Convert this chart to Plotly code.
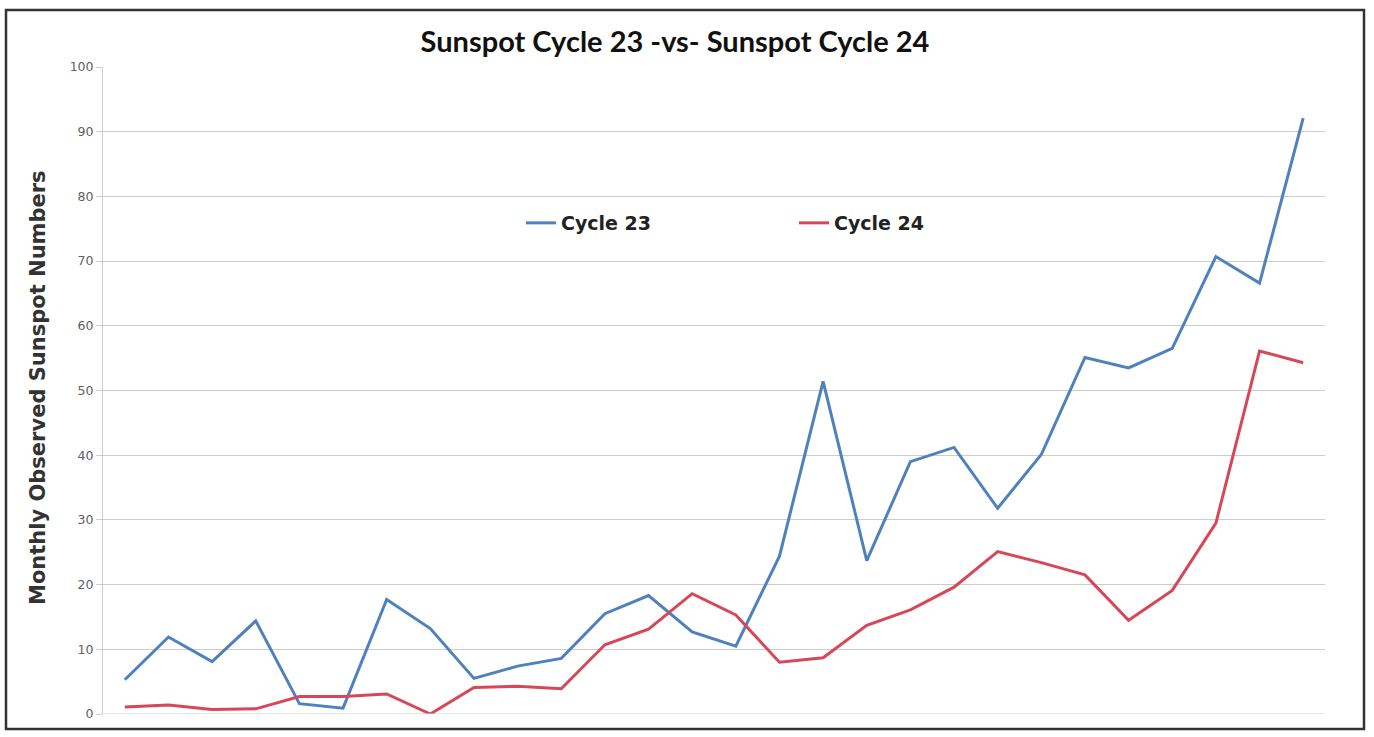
import plotly.graph_objects as go

months = list(range(1, 29))
cycle23 = [5.3, 11.9, 8.1, 14.4, 1.6, 0.9, 17.7, 13.2, 5.5, 7.4, 8.6, 15.5, 18.3, 12.7,
           10.5, 24.4, 51.4, 23.7, 39.0, 41.2, 31.8, 40.1, 55.1, 53.5, 56.5, 70.7, 66.6, 92.1]
cycle24 = [1.1, 1.4, 0.7, 0.8, 2.7, 2.7, 3.1, 0.0, 4.1, 4.3, 3.9, 10.7, 13.1, 18.6,
           15.3, 8.0, 8.7, 13.7, 16.1, 19.6, 25.1, 23.4, 21.5, 14.5, 19.1, 29.5, 56.1, 54.3]
y_ticks = list(range(0, 101, 10))

W, H = 1374, 737
L, R, T, B = 103, 49, 67, 23
pw, ph = W - L - R, H - T - B

fig = go.Figure()
fig.add_trace(go.Scatter(x=months, y=cycle23, mode="lines", name="Cycle 23",
                         line=dict(color="#4f81bd", width=3)))
fig.add_trace(go.Scatter(x=months, y=cycle24, mode="lines", name="Cycle 24",
                         line=dict(color="#d64858", width=3)))

def px_x(p):
    return (p - L) / pw

def px_y(p):
    return (H - B - p) / ph

fig.update_layout(
    width=W, height=H,
    margin=dict(l=L, r=R, t=T, b=B),
    paper_bgcolor="white", plot_bgcolor="white",
    title=dict(text="<b>Sunspot Cycle 23 -vs- Sunspot Cycle 24</b>",
               x=675 / W, xanchor="center", y=1 - 42 / H, yanchor="middle",
               yref="container", xref="container",
               font=dict(family="Lato, Open Sans, sans-serif", size=29, color="#111111")),
    showlegend=True,
    legend=dict(orientation="h", x=px_x(521), y=px_y(223), xanchor="left", yanchor="middle",
                entrywidth=228, entrywidthmode="pixels", bgcolor="rgba(0,0,0,0)",
                font=dict(family="DejaVu Sans, sans-serif", size=19, color="#222222", weight="bold"),
                itemwidth=30),
    xaxis=dict(range=[0.5, 28.5], showticklabels=False, showgrid=False, zeroline=False,
               showline=False, ticks=""),
    yaxis=dict(range=[0, 100], tickvals=y_ticks, showgrid=True, gridcolor="#cccccc",
               gridwidth=1, zeroline=False, showline=True, linecolor="#cccccc", linewidth=1,
               ticks="outside", ticklen=6, tickcolor="#cccccc",
               tickfont=dict(family="DejaVu Sans, sans-serif", size=12.5, color="#606060")),
    annotations=[dict(text="<b>Monthly Observed Sunspot Numbers</b>", textangle=-90,
                      xref="paper", yref="paper", x=px_x(38), y=px_y(388),
                      xanchor="center", yanchor="middle", showarrow=False,
                      font=dict(family="DejaVu Sans, sans-serif", size=21, color="#333333"))],
    shapes=[dict(type="rect", xref="paper", yref="paper",
                 x0=px_x(6), x1=px_x(1364), y0=px_y(729), y1=px_y(10),
                 line=dict(color="#333333", width=2.5), fillcolor="rgba(0,0,0,0)", layer="below")],
)
fig.add_hline(y=0, line=dict(color="#cccccc", width=1))

fig.write_html("out.html", config={"displayModeBar": False},
               post_script="document.body.style.margin='0';document.body.style.overflow='hidden';")
